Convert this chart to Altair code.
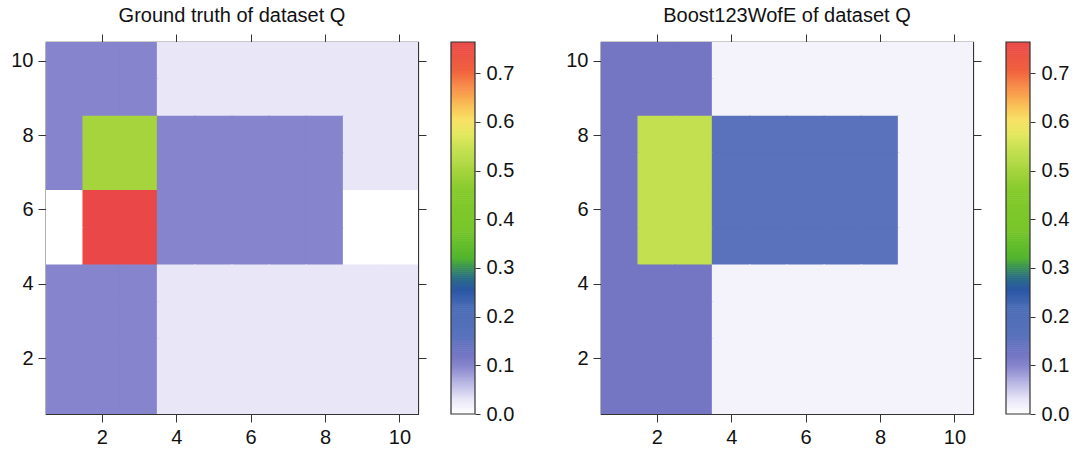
import altair as alt
import numpy as np
import pandas as pd

# ---- data: 10x10 grids, rows listed from y=10 (top) down to y=1 ----
X_VALUES = list(range(1, 11))
Y_VALUES = list(range(10, 0, -1))

GROUND_TRUTH = [
    [0.10, 0.10, 0.10, 0.03, 0.03, 0.03, 0.03, 0.03, 0.03, 0.03],
    [0.10, 0.10, 0.10, 0.03, 0.03, 0.03, 0.03, 0.03, 0.03, 0.03],
    [0.10, 0.50, 0.50, 0.10, 0.10, 0.10, 0.10, 0.10, 0.03, 0.03],
    [0.10, 0.50, 0.50, 0.10, 0.10, 0.10, 0.10, 0.10, 0.03, 0.03],
    [0.00, 0.764, 0.764, 0.10, 0.10, 0.10, 0.10, 0.10, 0.00, 0.00],
    [0.00, 0.764, 0.764, 0.10, 0.10, 0.10, 0.10, 0.10, 0.00, 0.00],
    [0.10, 0.10, 0.10, 0.03, 0.03, 0.03, 0.03, 0.03, 0.03, 0.03],
    [0.10, 0.10, 0.10, 0.03, 0.03, 0.03, 0.03, 0.03, 0.03, 0.03],
    [0.10, 0.10, 0.10, 0.03, 0.03, 0.03, 0.03, 0.03, 0.03, 0.03],
    [0.10, 0.10, 0.10, 0.03, 0.03, 0.03, 0.03, 0.03, 0.03, 0.03],
]

BOOST = [
    [0.12, 0.12, 0.12, 0.015, 0.015, 0.015, 0.015, 0.015, 0.015, 0.015],
    [0.12, 0.12, 0.12, 0.015, 0.015, 0.015, 0.015, 0.015, 0.015, 0.015],
    [0.12, 0.54, 0.54, 0.16, 0.16, 0.16, 0.16, 0.16, 0.015, 0.015],
    [0.12, 0.54, 0.54, 0.16, 0.16, 0.16, 0.16, 0.16, 0.015, 0.015],
    [0.12, 0.54, 0.54, 0.16, 0.16, 0.16, 0.16, 0.16, 0.015, 0.015],
    [0.12, 0.54, 0.54, 0.16, 0.16, 0.16, 0.16, 0.16, 0.015, 0.015],
    [0.12, 0.12, 0.12, 0.015, 0.015, 0.015, 0.015, 0.015, 0.015, 0.015],
    [0.12, 0.12, 0.12, 0.015, 0.015, 0.015, 0.015, 0.015, 0.015, 0.015],
    [0.12, 0.12, 0.12, 0.015, 0.015, 0.015, 0.015, 0.015, 0.015, 0.015],
    [0.12, 0.12, 0.12, 0.015, 0.015, 0.015, 0.015, 0.015, 0.015, 0.015],
]

TITLES = ["Ground truth of dataset Q", "Boost123WofE of dataset Q"]
AXIS_TICKS = [2, 4, 6, 8, 10]
CBAR_TICKS = [0.0, 0.1, 0.2, 0.3, 0.4, 0.5, 0.6, 0.7]
VMAX = 0.764

# colour map stops (value -> colour)
CMAP_STOPS = [0.0, 0.03, 0.06, 0.10, 0.12, 0.16, 0.22, 0.255, 0.28, 0.30, 0.32,
              0.38, 0.46, 0.50, 0.54, 0.575, 0.605, 0.635, 0.67, 0.705, 0.764]
CMAP_COLORS = ["#FFFFFF", "#E8E6F7", "#BDBBE6", "#8684CC", "#7476C4", "#5A72BC",
               "#4A6CB6", "#2A56A4", "#2A6E84", "#3A9058", "#52B52E", "#78C62A",
               "#86CA2C", "#A6D43C", "#C2E050", "#E4E860", "#F8E062", "#F9BE56",
               "#F88E48", "#F0623F", "#EA4848"]

FONT = "Liberation Sans"
W = H = 372
CB_GAP = 33
CB_W = 24


def grid_df(mat):
    rows = []
    for r, yv in enumerate(Y_VALUES):
        for c, xv in enumerate(X_VALUES):
            rows.append({"x0": xv - 0.5, "x1": xv + 0.5,
                         "y0": yv - 0.5, "y1": yv + 0.5, "v": mat[r][c]})
    return pd.DataFrame(rows)


cstep = 0.004
cb_lo = np.arange(0.0, VMAX, cstep)
cbar_df = pd.DataFrame({"b0": cb_lo, "b1": np.minimum(cb_lo + cstep * 1.3, VMAX),
                        "v": cb_lo + cstep / 2})

cscale = alt.Scale(domain=CMAP_STOPS, range=CMAP_COLORS, interpolate="rgb")

AXIS_STYLE = dict(labelFont=FONT, labelFontSize=20, labelColor="#111111",
                  tickColor="#333333", tickSize=8, tickWidth=1, domainColor="#333333",
                  domainWidth=1.2, grid=False, labelPadding=5, title=None)


def panel(mat, title):
    df = grid_df(mat)
    xs = alt.Scale(domain=[0.5, 10.5], nice=False, zero=False)
    ys = alt.Scale(domain=[0.5, 10.5], nice=False, zero=False)
    heat = alt.Chart(df).mark_rect(strokeWidth=1.5, clip=True).encode(
        x=alt.X("x0:Q", scale=xs, axis=alt.Axis(orient="bottom", values=AXIS_TICKS, **AXIS_STYLE)),
        x2="x1:Q",
        y=alt.Y("y0:Q", scale=ys, axis=alt.Axis(orient="left", values=AXIS_TICKS, **AXIS_STYLE)),
        y2="y1:Q",
        color=alt.Color("v:Q", scale=cscale, legend=None),
        stroke=alt.Stroke("v:Q", scale=cscale, legend=None),
    )
    frame = alt.Chart(df).mark_point(opacity=0).encode(
        x=alt.X("x0:Q", scale=xs, axis=alt.Axis(orient="top", values=AXIS_TICKS, labels=False, **AXIS_STYLE)),
        y=alt.Y("y0:Q", scale=ys, axis=alt.Axis(orient="right", values=AXIS_TICKS, labels=False, **AXIS_STYLE)),
    )
    cb_style = dict(AXIS_STYLE)
    cb_style.update(tickSize=5, labelPadding=6, domain=False)
    cbar = alt.Chart(cbar_df).mark_rect().encode(
        x=alt.value(W + CB_GAP), x2=alt.value(W + CB_GAP + CB_W),
        y=alt.Y("b0:Q", scale=alt.Scale(domain=[0, VMAX], nice=False, zero=False),
                axis=alt.Axis(orient="right", offset=CB_GAP + CB_W, values=CBAR_TICKS,
                              format=".1f", **cb_style)),
        y2="b1:Q",
        color=alt.Color("v:Q", scale=cscale, legend=None),
    )
    border = alt.Chart(pd.DataFrame({"a": [0]})).mark_rect(
        filled=False, stroke="#333333", strokeWidth=1.2).encode(
        x=alt.value(W + CB_GAP), x2=alt.value(W + CB_GAP + CB_W),
        y=alt.value(0), y2=alt.value(H))
    return alt.layer(heat, frame, cbar, border).resolve_scale(
        x="independent", y="independent"
    ).resolve_axis(x="independent", y="independent").properties(
        width=W, height=H,
        title=alt.TitleParams(title, anchor="middle", frame="group", offset=-12,
                              fontSize=20, font=FONT, fontWeight="normal",
                              color="#111111", baseline="bottom"),
    )


chart = alt.hconcat(panel(GROUND_TRUTH, TITLES[0]), panel(BOOST, TITLES[1]), spacing=50).properties(
    padding={"left": 10, "top": 4, "right": 0, "bottom": 0},
    background="white",
).configure_view(stroke="#333333", strokeWidth=1.2)

chart.save("out.html", embed_options={"renderer": "svg", "actions": False})
